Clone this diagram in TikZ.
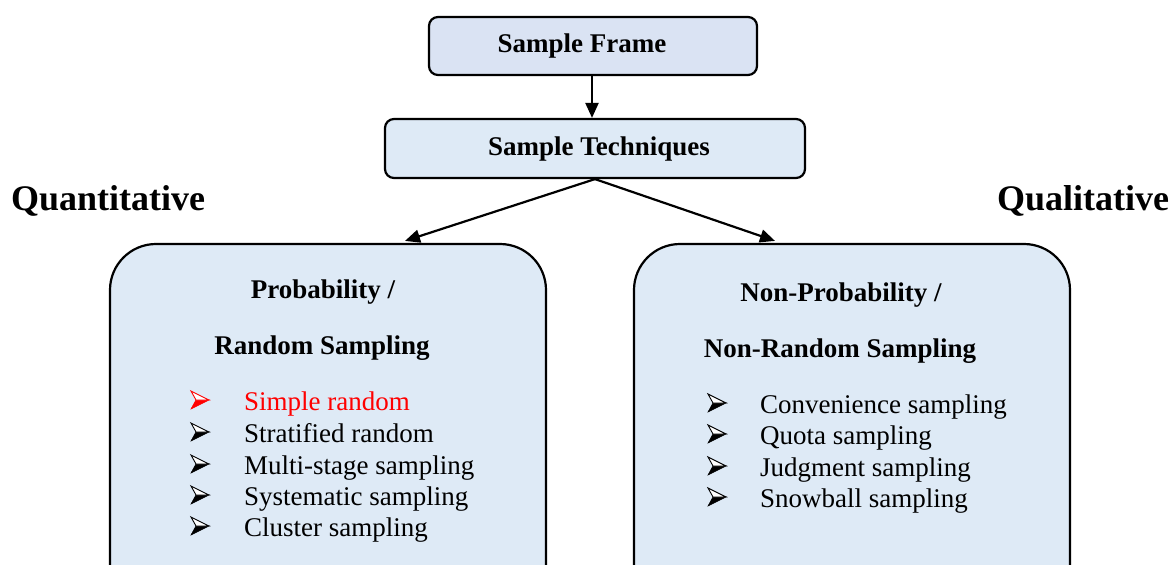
\documentclass[tikz,border=0pt]{standalone}
\usepackage{fontspec}
\setmainfont{Liberation Serif}
\usetikzlibrary{arrows.meta,calc}

\definecolor{framefill}{HTML}{DAE3F3}
\definecolor{boxfill}{HTML}{DEEAF6}
\definecolor{hot}{HTML}{FF0000}

\tikzset{
  topbox/.style={draw=black, line width=2.2pt, rounded corners=9pt,
    font=\fontsize{27}{32}\selectfont\bfseries, inner sep=0pt},
  groupbox/.style={draw=black, line width=2.2pt, rounded corners=46pt,
    fill=boxfill, inner sep=0pt, minimum width=436pt, minimum height=376pt},
  flow/.style={line width=2.2pt, -{Triangle[length=15pt,width=13pt]}},
  head/.style={font=\fontsize{27}{32}\selectfont\bfseries, anchor=base, inner sep=0pt},
  side/.style={font=\fontsize{36}{40}\selectfont\bfseries, anchor=base, inner sep=0pt},
  item/.style={font=\fontsize{27}{32}\selectfont, anchor=base west, inner sep=0pt},
  % arrowhead bullet: outlined upper half, solid lower half
  bul/.pic={
    \filldraw[pic actions, line width=0.6pt, line join=miter] (0,9)--(18,0)--(5,0)--cycle;
    \draw[pic actions, fill=white, line width=0.9pt, line join=miter] (0,-9)--(18,0)--(5,0)--cycle;
  }
}

\begin{document}
\begin{tikzpicture}[x=1pt,y=-1pt]
  \useasboundingbox (0,0) rectangle (1173,565);
  \clip (0,0) rectangle (1173,565);

  % top of the hierarchy
  \node[topbox, fill=framefill, minimum width=328pt, minimum height=58pt] (frame) at (593,46) {};
  \node[anchor=base, inner sep=0pt, font=\fontsize{27}{32}\selectfont\bfseries] (frametext) at (582,52) {Sample Frame};
  \node[topbox, fill=boxfill, minimum width=420pt, minimum height=59pt] (tech) at (595,148.5) {};
  \node[anchor=base, inner sep=0pt, font=\fontsize{27}{32}\selectfont\bfseries] (techtext) at (599,155) {Sample Techniques};

  % the two families of techniques
  \node[groupbox] (pl) at (328,432) {};
  \node[groupbox] (pr) at (852,432) {};

  \draw[flow] (frame.south -| 592,0) -- (tech.north -| 592,0);
  \draw[flow] (tech.south) -- ($(pl.north)+(77,-2)$);
  \draw[flow] (tech.south) -- ($(pr.north)+(-77,-2)$);

  % side labels
  \node[side] (quant) at (108,210) {Quantitative};
  \node[side] (qual) at (1083,210) {Qualitative};

  % probability sampling
  \node[head] (ph1) at (323,298) {Probability /};
  \node[head] (ph2) at (322,354) {Random Sampling};
  \pic[draw=hot, fill=hot] at (191,400) {bul};
  \node[item, text=hot] (p1) at (244,410) {Simple random};
  \pic[draw=black, fill=black] at (191,432) {bul};
  \node[item] (p2) at (244,442) {Stratified random};
  \pic[draw=black, fill=black] at (191,464) {bul};
  \node[item] (p3) at (244,474) {Multi-stage sampling};
  \pic[draw=black, fill=black] at (191,495) {bul};
  \node[item] (p4) at (244,505) {Systematic sampling};
  \pic[draw=black, fill=black] at (191,526) {bul};
  \node[item] (p5) at (244,536) {Cluster sampling};

  % non-probability sampling
  \node[head] (nh1) at (841,301) {Non-Probability /};
  \node[head] (nh2) at (840,357) {Non-Random Sampling};
  \pic[draw=black, fill=black] at (708,403) {bul};
  \node[item] (n1) at (760,413) {Convenience sampling};
  \pic[draw=black, fill=black] at (708,434) {bul};
  \node[item] (n2) at (760,444) {Quota sampling};
  \pic[draw=black, fill=black] at (708,466) {bul};
  \node[item] (n3) at (760,476) {Judgment sampling};
  \pic[draw=black, fill=black] at (708,497) {bul};
  \node[item] (n4) at (760,507) {Snowball sampling};
\end{tikzpicture}
\end{document}
